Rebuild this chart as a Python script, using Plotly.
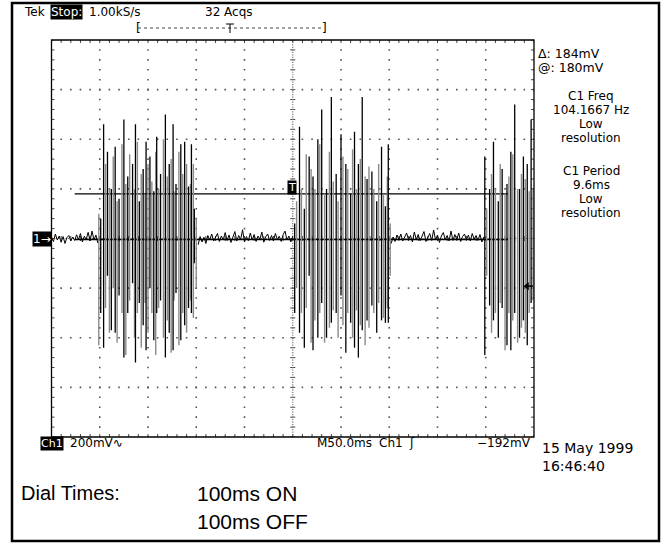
import plotly.graph_objects as go

# ---------------- data (ms, mV) ----------------
# Burst 1 spikes
b1_black_t = [51, 54, 58, 62, 66, 70, 75, 79, 84, 87, 91, 95, 98, 102, 106, 109, 113, 118, 122, 126, 129, 134, 138, 142, 145, 148]
b1_black_hi = [80, 460, 350, 200, 370, 160, 480, 250, 300, 460, 150, 280, 390, 330, 190, 410, 260, 500, 300, 460, 220, 380, 390, 210, 380, 120]
b1_black_lo = [-300, -440, -150, -370, -380, -230, -480, -300, -180, -500, -260, -350, -450, -200, -410, -300, -250, -480, -380, -450, -220, -410, -350, -280, -300, -100]
b1_gray_t = [49, 56, 60, 64, 68, 73, 77, 81, 86, 89, 93, 97, 100, 104, 108, 111, 116, 120, 124, 127, 132, 136, 140, 144, 147, 150]
b1_gray_hi = [100, 300, 200, 330, 150, 380, 220, 340, 200, 390, 260, 180, 300, 230, 350, 200, 400, 250, 320, 190, 350, 260, 300, 220, 300, 80]
b1_gray_lo = [-430, -280, -380, -200, -420, -300, -470, -250, -400, -300, -440, -260, -380, -300, -470, -280, -400, -330, -460, -250, -430, -300, -380, -250, -320, -200]
# Burst 2 spikes
b2_black_t = [252, 257, 262, 267, 271, 276, 280, 285, 290, 295, 300, 305, 310, 314, 318, 322, 327, 332, 337, 342, 346, 349]
b2_black_hi = [60, 450, 120, 330, 250, 400, 520, 200, 570, 260, 420, 300, 180, 430, 300, 570, 240, 270, 150, 370, 130, 380]
b2_black_lo = [-300, -380, -440, -150, -450, -400, -260, -400, -340, -300, -230, -460, -340, -440, -480, -370, -330, -270, -380, -330, -340, -340]
b2_gray_t = [254, 259, 264, 269, 273, 278, 283, 288, 292, 297, 302, 307, 312, 316, 320, 325, 329, 334, 339, 344, 348, 351]
b2_gray_hi = [150, 200, 340, 280, 200, 380, 180, 350, 230, 150, 330, 280, 360, 200, 320, 250, 290, 200, 300, 180, 250, 60]
b2_gray_lo = [-200, -300, -280, -420, -330, -300, -420, -360, -290, -400, -350, -300, -400, -290, -350, -430, -360, -300, -260, -320, -280, -150]
# Burst 3 spikes
b3_black_t = [449, 454, 458, 463, 467, 472, 476, 480, 485, 489, 493, 497]
b3_black_hi = [330, 200, 390, 150, 280, 220, 350, 540, 200, 330, 300, 480]
b3_black_lo = [-470, -270, -330, -400, -280, -430, -450, -300, -400, -330, -430, -260]
b3_gray_t = [451, 456, 460, 465, 470, 474, 478, 483, 487, 491, 495, 499]
b3_gray_hi = [120, 260, 200, 300, 180, 250, 340, 200, 260, 240, 190, 200]
b3_gray_lo = [-150, -380, -300, -260, -450, -300, -330, -420, -360, -380, -300, -250]

# Baseline noise between bursts (every 2 ms)
noise1_t0, noise1 = 0, [5, -12, 18, -6, 10, -15, 8, -20, 4, 12, -10, 6, -8, 15, -5, 20, -14, 9, -3, 25, -10, 30, -6, 14, -18]
noise2_t0, noise2 = 152, [-25, 8, -14, 5, -20, 12, -6, 18, -10, 4, 20, -12, 10, -5, 24, -8, 14, -16, 6, 28, -10, 12, -4, 35, -14,
                          8, -9, 22, -6, 16, -12, 10, -3, 26, -15, 7, 18, -8, 12, -10, 20, -4, 9, -12, 15, 30, -6, 10, -14, 8]
noise3_t0, noise3 = 352, [-20, 6, -12, 14, -5, 18, -10, 8, 22, -6, 12, -14, 26, -4, 16, -9, 10, 28, -12, 6, 20, -8, 34, -6, 14,
                          -16, 10, 24, -4, 12, -10, 30, -8, 16, -5, 22, -12, 8, 18, -6, 14, -10, 20, -3, 12, -8, 16, -14, 6]

cursor_levels = [180, -4]          # mV
cursor_span = [24, 473]            # ms
trigger_level = -192               # mV
time_per_div = 50                  # ms
volts_per_div = 200                # mV

W, H = 663, 544
X0, X1, Y0, Y1 = 51.5, 534, 40, 437   # graticule in pixels

def P(x):
    return x / W

def Q(y):
    return 1 - y / H

T_MAX = 10 * time_per_div
V_MAX = 4 * volts_per_div
ms_per_px = T_MAX / (X1 - X0)
mv_per_px = 2 * V_MAX / (Y1 - Y0)

fig = go.Figure()

# ---------------- graticule ----------------
gx, gy = [], []
for i in range(1, 10):
    if i == 5:
        continue
    t = i * time_per_div
    for k in range(0, 41):
        gx.append(t); gy.append(-V_MAX + k * volts_per_div / 5)
for j in [-3, -2, -1, 1, 2, 3]:
    v = j * volts_per_div
    for k in range(0, 51):
        gx.append(k * time_per_div / 5); gy.append(v)
fig.add_trace(go.Scatter(x=gx, y=gy, mode="markers", hoverinfo="skip",
                         marker=dict(symbol="square", size=1.6, color="#555", line=dict(width=0))))

# ticks on frame and centre cross
tx, ty = [], []
L = 3
for k in range(0, 51):
    t = k * time_per_div / 5
    tx += [t, t, None, t, t, None, t, t, None]
    ty += [V_MAX, V_MAX - L * mv_per_px, None, -V_MAX, -V_MAX + L * mv_per_px, None,
           -2.5 * mv_per_px, 2.5 * mv_per_px, None]
for k in range(0, 41):
    v = -V_MAX + k * volts_per_div / 5
    tx += [0, L * ms_per_px, None, T_MAX, T_MAX - L * ms_per_px, None,
           T_MAX / 2 - 2.5 * ms_per_px, T_MAX / 2 + 2.5 * ms_per_px, None]
    ty += [v, v, None, v, v, None, v, v, None]
fig.add_trace(go.Scatter(x=tx, y=ty, mode="lines", hoverinfo="skip",
                         line=dict(color="#444", width=1)))
# centre cross dotted lines
cx = [T_MAX / 2] * 161 + [k * 2.5 for k in range(201)]
cy = [-V_MAX + k * 10 for k in range(161)] + [0] * 201
fig.add_trace(go.Scatter(x=cx, y=cy, mode="markers", hoverinfo="skip",
                         marker=dict(symbol="square", size=1.2, color="#777", line=dict(width=0))))

# ---------------- cursors ----------------
for lv in cursor_levels:
    fig.add_trace(go.Scatter(x=cursor_span, y=[lv, lv], mode="lines", hoverinfo="skip",
                             line=dict(color="black", width=1.3)))

# ---------------- waveform ----------------
def spikes(ts, his, los):
    xs, ys = [], []
    for t, h, l in zip(ts, his, los):
        xs += [t, t, None]
        ys += [h, l, None]
    return xs, ys

gray_sets = [(b1_gray_t, b1_gray_hi, b1_gray_lo), (b2_gray_t, b2_gray_hi, b2_gray_lo), (b3_gray_t, b3_gray_hi, b3_gray_lo)]
black_sets = [(b1_black_t, b1_black_hi, b1_black_lo), (b2_black_t, b2_black_hi, b2_black_lo), (b3_black_t, b3_black_hi, b3_black_lo)]
for s in gray_sets:
    xs, ys = spikes(*s)
    fig.add_trace(go.Scatter(x=xs, y=ys, mode="lines", hoverinfo="skip",
                             line=dict(color="#8a8a8a", width=1.4)))
for s in black_sets:
    xs, ys = spikes(*s)
    fig.add_trace(go.Scatter(x=xs, y=ys, mode="lines", hoverinfo="skip",
                             line=dict(color="black", width=1.3)))
for t0, vals in [(noise1_t0, noise1), (noise2_t0, noise2), (noise3_t0, noise3)]:
    fig.add_trace(go.Scatter(x=[t0 + 2 * i for i in range(len(vals))], y=vals, mode="lines",
                             hoverinfo="skip", line=dict(color="black", width=1)))

# trigger level marker at right edge
fig.add_trace(go.Scatter(x=[T_MAX - 8 * ms_per_px, T_MAX - 1 * ms_per_px], y=[trigger_level, trigger_level],
                         mode="lines", hoverinfo="skip", line=dict(color="black", width=1.5)))
fig.add_trace(go.Scatter(x=[T_MAX - 7 * ms_per_px], y=[trigger_level], mode="markers", hoverinfo="skip",
                         marker=dict(symbol="triangle-left", size=7, color="black")))

# ---------------- layout ----------------
fig.update_xaxes(range=[0, T_MAX], domain=[P(X0), P(X1)], visible=False, fixedrange=True)
fig.update_yaxes(range=[-V_MAX, V_MAX], domain=[Q(Y1), Q(Y0)], visible=False, fixedrange=True)

shapes = []
# graticule frame
shapes.append(dict(type="rect", xref="paper", yref="paper", x0=P(X0), x1=P(X1), y0=Q(Y1), y1=Q(Y0),
                   line=dict(color="black", width=1.3)))
# outer border
shapes.append(dict(type="rect", xref="paper", yref="paper", x0=P(12), x1=P(659), y0=Q(541), y1=Q(3),
                   line=dict(color="black", width=2.5)))
# record view bracket
shapes.append(dict(type="line", xref="paper", yref="paper", x0=P(138), x1=P(324), y0=Q(28), y1=Q(28),
                   line=dict(color="#444", width=1, dash="dot")))
shapes.append(dict(type="line", xref="paper", yref="paper", x0=P(230), x1=P(230), y0=Q(24), y1=Q(33),
                   line=dict(color="black", width=1)))
shapes.append(dict(type="line", xref="paper", yref="paper", x0=P(226), x1=P(234), y0=Q(24), y1=Q(24),
                   line=dict(color="black", width=1)))

FONT = "DejaVu Sans"
ann = []

def text(x, y, s, size=13, xanchor="left", color="black", bg=None, family=FONT, height=None):
    d = dict(x=P(x), y=Q(y), xref="paper", yref="paper", text=s, showarrow=False,
             xanchor=xanchor, yanchor="middle", font=dict(family=family, size=size, color=color),
             borderpad=0)
    if bg:
        d["bgcolor"] = bg
    if height:
        d["height"] = height
    ann.append(d)

text(23, 12, "Tek", 12)
text(50, 12, "Stop:", 12, color="white", bg="black")
text(88, 12, "1.00kS/s", 12)
text(204, 12, "32 Acqs", 12)
text(135, 28, "[", 12)
text(321, 28, "]", 12)
text(537, 53, "Δ: 184mV", 12.5, height=14)
text(537, 67, "@: 180mV", 12.5, height=14)
for yy, s in [(96, "C1 Freq"), (110, "104.1667 Hz"), (124, "Low"), (138, "resolution"),
              (171, "C1 Period"), (185, "9.6ms"), (199, "Low"), (213, "resolution")]:
    text(591, yy, s, 12, xanchor="center", height=14)
text(32, 239, "1→", 12, color="white", bg="black")
text(287, 187, "T", 11, color="white", bg="black")
text(40, 443, "Ch1", 11, color="white", bg="black")
text(69, 443, "200mV∿", 12)
text(316, 443, "M50.0ms", 12)
text(378, 443, "Ch1", 12)
text(408, 443, "ʃ", 12)
text(532, 443, "−192mV", 12, xanchor="right")
text(541, 447, "15 May 1999", 14, height=17)
text(541, 465, "16:46:40", 14, height=17)
text(20, 493, "Dial Times:", 20, family="Liberation Sans")
text(196, 493, "100ms ON", 21, family="Liberation Sans", height=26)
text(196, 521, "100ms OFF", 21, family="Liberation Sans", height=26)

fig.update_layout(width=W, height=H, margin=dict(l=0, r=0, t=0, b=0),
                  paper_bgcolor="white", plot_bgcolor="white", showlegend=False,
                  shapes=shapes, annotations=ann)

fig.write_html("out.html")
